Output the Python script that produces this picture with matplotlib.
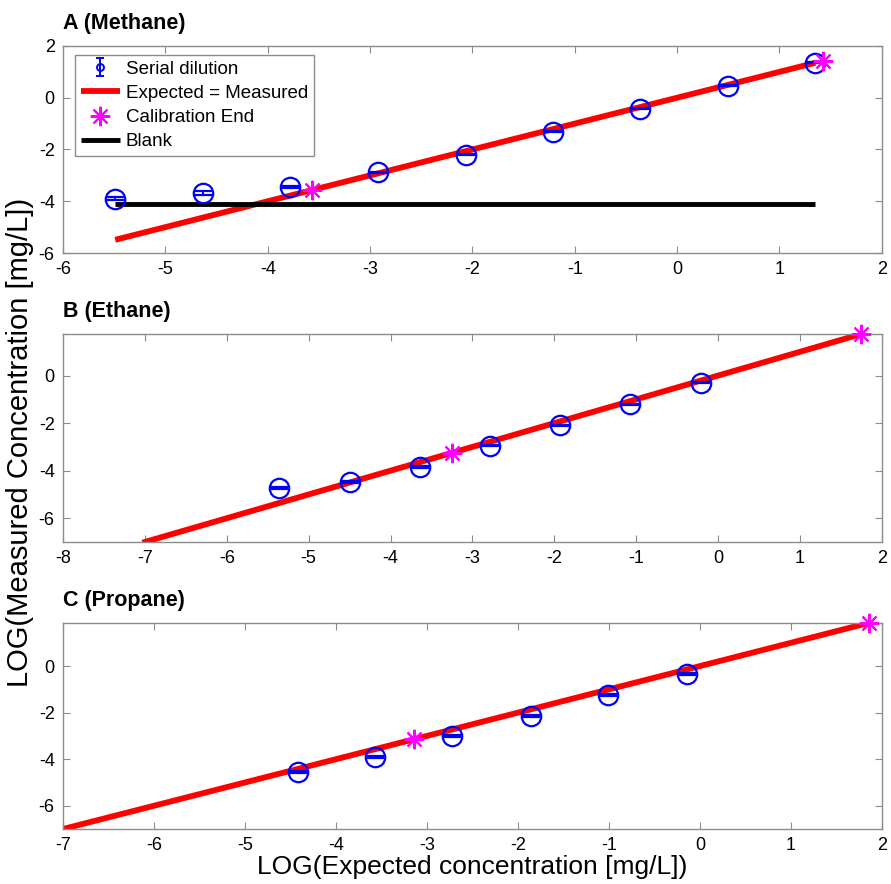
#Serial dilution check for the three gases
#measured vs expected concentration on log axes

import numpy as np
from matplotlib import pyplot as plt

plt.rcParams['font.family'] = ['Liberation Sans', 'DejaVu Sans']
plt.rcParams['axes.unicode_minus'] = False

##Methane (panel A)##
ch4_expected = [-5.49, -4.63, -3.78, -2.92, -2.06, -1.21, -0.36, 0.50, 1.35]
ch4_measured = [-3.91, -3.68, -3.45, -2.88, -2.21, -1.32, -0.43, 0.46, 1.36]
ch4_err = [0.06, 0.06, 0.05, 0.02, 0.02, 0.02, 0.02, 0.02, 0.02]
ch4_cal_end = [-3.57, 1.43]
ch4_blank = -4.1

##Ethane (panel B)##
c2h6_expected = [-5.36, -4.50, -3.64, -2.78, -1.93, -1.07, -0.21]
c2h6_measured = [-4.73, -4.49, -3.84, -2.95, -2.09, -1.21, -0.30]
c2h6_err = [0.03, 0.04, 0.05, 0.03, 0.03, 0.03, 0.03]
c2h6_cal_end = [-3.25, 1.74]
c2h6_line_start = -7.03

##Propane (panel C)##
c3h8_expected = [-4.42, -3.57, -2.72, -1.86, -1.01, -0.14]
c3h8_measured = [-4.55, -3.90, -3.02, -2.13, -1.25, -0.34]
c3h8_err = [0.05, 0.05, 0.04, 0.04, 0.04, 0.04]
c3h8_cal_end = [-3.14, 1.86]
c3h8_line_start = -7.0

star = (8, 2, 0)        #asterisk marker
axis_grey = '#8c8c8c'


def draw_panel(ax, x, y, err, cal_end, line_x, title, xlim, ylim, xticks, yticks):
    '''draws one gas: dilution points with error bars, 1:1 line and calibration end stars'''
    ax.errorbar(x, y, yerr=err, fmt='o', color='blue', mfc='none', ms=14, mew=1.6,
                elinewidth=1.4, capsize=6.5, capthick=1.4, zorder=3)
    ax.plot(line_x, line_x, color='red', lw=4.2, label='Expected = Measured', zorder=2,
            solid_capstyle='butt')
    ax.plot(cal_end, cal_end, ls='none', marker=star, color='magenta', ms=14, mew=1.5,
            label='Calibration End', zorder=4, clip_on=False)
    ax.set_xlim(xlim)
    ax.set_ylim(ylim)
    ax.set_xticks(xticks)
    ax.set_yticks(yticks)
    ax.tick_params(direction='in', top=True, right=True, labelsize=13, length=5,
                   color=axis_grey, pad=6)
    for s in ax.spines.values():
        s.set_color(axis_grey)
        s.set_linewidth(1.0)
    ax.set_title(title, loc='left', fontweight='bold', fontsize=15.5, pad=12)


fig = plt.figure(figsize=(8.91, 8.84), dpi=100)
left = 0.0707
width = 0.919
axA = fig.add_axes([left, 0.7138, width, 0.2342])
axB = fig.add_axes([left, 0.3869, width, 0.2353])
axC = fig.add_axes([left, 0.0622, width, 0.2330])

#methane has a blank line as well
draw_panel(axA, ch4_expected, ch4_measured, ch4_err, ch4_cal_end,
           [ch4_expected[0], ch4_expected[-1]], 'A (Methane)',
           (-6, 2), (-6, 2), np.arange(-6, 3, 1), np.arange(-6, 3, 2))
axA.plot([ch4_expected[0], ch4_expected[-1]], [ch4_blank, ch4_blank], color='black',
         lw=3.5, label='Blank', zorder=2, solid_capstyle='butt')

#small errorbar just for the legend entry
dil_handle = axA.errorbar([np.nan], [np.nan], yerr=[0.1], fmt='o', color='blue', mfc='none',
                          ms=5, mew=1.4, elinewidth=1.4, capsize=3, capthick=1.4)
h, l = axA.get_legend_handles_labels()
axA.legend([dil_handle] + h, ['Serial dilution'] + l, loc='upper left',
           bbox_to_anchor=(0.0147, 0.957), borderaxespad=0,
           fontsize=13.5, handlelength=2.1, handletextpad=0.3, labelspacing=0.38,
           borderpad=0.3, fancybox=False, framealpha=1, edgecolor=axis_grey)

draw_panel(axB, c2h6_expected, c2h6_measured, c2h6_err, c2h6_cal_end,
           [c2h6_line_start, c2h6_cal_end[1]], 'B (Ethane)',
           (-8, 2), (-7, 1.75), np.arange(-8, 3, 1), np.arange(-6, 1, 2))

draw_panel(axC, c3h8_expected, c3h8_measured, c3h8_err, c3h8_cal_end,
           [c3h8_line_start, c3h8_cal_end[1]], 'C (Propane)',
           (-7, 2), (-7, 1.85), np.arange(-7, 3, 1), np.arange(-6, 1, 2))

axC.set_xlabel('LOG(Expected concentration [mg/L])', fontsize=19, labelpad=0.5)
fig.text(0.022, 0.5, 'LOG(Measured Concentration [mg/L])', rotation=90,
         ha='center', va='center', fontsize=21)

plt.savefig('out.png', dpi=100)
